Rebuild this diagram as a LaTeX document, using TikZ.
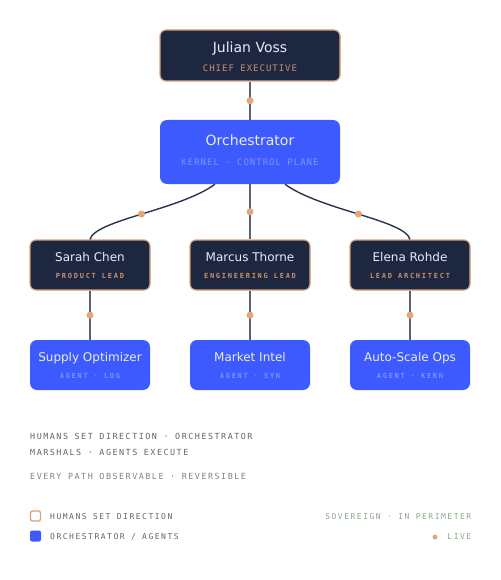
\documentclass[tikz,border=0pt]{standalone}
\usepackage{fontspec}
\setmainfont{DejaVu Sans}
\newfontfamily\monoA[LetterSpace=11]{DejaVu Sans Mono}
\newfontfamily\monoB[LetterSpace=25]{DejaVu Sans Mono Bold}
\newfontfamily\monoC[LetterSpace=18]{DejaVu Sans Mono}
\newfontfamily\monoD[LetterSpace=19]{DejaVu Sans Mono}
\usetikzlibrary{calc}
\definecolor{navy}{HTML}{1E2740}
\definecolor{tan}{HTML}{D9A27E}
\definecolor{dotc}{HTML}{E5A57A}
\definecolor{blu}{HTML}{3D5AFE}
\definecolor{blusub}{HTML}{7D93FF}
\definecolor{tansub}{HTML}{C9916C}
\definecolor{titw}{HTML}{E8ECF7}
\definecolor{linec}{HTML}{5B6275}
\definecolor{curvec}{HTML}{2B3350}
\definecolor{grayt}{HTML}{5E6673}
\definecolor{greent}{HTML}{788A7E}
\definecolor{greenl}{HTML}{8CA888}
\begin{document}
\begin{tikzpicture}[x=1pt,y=-1pt,
  human/.style={draw=tan,line width=1.2pt,fill=navy,rounded corners=6pt,inner sep=0pt},
  agentbox/.style={fill=blu,rounded corners=7pt,inner sep=0pt},
  bigtitle/.style={text=titw,font=\fontsize{14}{16}\selectfont,inner sep=0pt,anchor=base},
  smalltitle/.style={text=titw,font=\fontsize{12}{14}\selectfont,inner sep=0pt,anchor=base},
  bigsub/.style={font=\monoA\fontsize{9}{10}\selectfont,inner sep=0pt,anchor=base},
  smallsub/.style={font=\monoB\fontsize{7}{8}\selectfont,inner sep=0pt,anchor=base},
  foot/.style={font=\monoC\fontsize{8.4}{9}\selectfont,inner sep=0pt,anchor=west},
  legend/.style={font=\monoD\fontsize{8}{9}\selectfont,inner sep=0pt},
  vline/.style={draw=linec,line width=1.8pt},
  cline/.style={draw=curvec,line width=1.4pt},
  dotn/.style={circle,fill=dotc,inner sep=0pt,minimum size=7pt}
]
\useasboundingbox[fill=white] (0,0) rectangle (500,580);

% top
\node[human,minimum width=180pt,minimum height=51pt] (ceo) at (250,55.5) {};
\node[bigtitle] (ceot) at (250,52.5) {Julian Voss};
\node[bigsub,text=tansub] (ceos) at (250,71.5) {CHIEF EXECUTIVE};

\node[agentbox,minimum width=180pt,minimum height=64pt] (orch) at (250,152) {};
\node[bigtitle] (orcht) at (250,146) {Orchestrator};
\node[bigsub,text=blusub] (orchs) at (250,165.5) {KERNEL · CONTROL PLANE};

% row 2
\foreach \n/\x/\t/\s in {sarah/90/Sarah Chen/PRODUCT LEAD, marcus/250/Marcus Thorne/ENGINEERING LEAD, elena/410/Elena Rohde/LEAD ARCHITECT}{
  \node[human,minimum width=120pt,minimum height=50pt] (\n) at (\x,265) {};
  \node[smalltitle] (\n t) at (\x,261.5) {\t};
  \node[smallsub,text=tansub] (\n s) at (\x,278) {\s};
}
% row 3
\foreach \n/\x/\t/\s in {supply/90/Supply Optimizer/AGENT · LOG, market/250/Market Intel/AGENT · SYN, auto/410/Auto-Scale Ops/AGENT · KERN}{
  \node[agentbox,minimum width=120pt,minimum height=50pt] (\n) at (\x,365) {};
  \node[smalltitle] (\n t) at (\x,361.5) {\t};
  \node[smallsub,text=blusub] (\n s) at (\x,378) {\s};
}

% connectors
\draw[vline] (ceo.south) -- (orch.north) node[dotn,pos=0.5] (d0) {};
\draw[vline] (orch.south) -- (marcus.north) node[dotn,pos=0.5] (d2) {};
\coordinate (ol) at ($(orch.south)+(-35,0)$);
\coordinate (or) at ($(orch.south)+(35,0)$);
\draw[cline] (ol) .. controls (180,210) and (95,220) .. (sarah.north);
\draw[cline] (or) .. controls (320,210) and (405,220) .. (elena.north);
\node[dotn] (d1) at (141.5,214) {};
\node[dotn] (d3) at (358.5,214) {};
\draw[vline] (sarah.south) -- (supply.north) node[dotn,pos=0.5] (d4) {};
\draw[vline] (marcus.south) -- (market.north) node[dotn,pos=0.5] (d5) {};
\draw[vline] (elena.south) -- (auto.north) node[dotn,pos=0.5] (d6) {};

% footer text
\node[foot,text=grayt] (f1) at (30,436.5) {HUMANS SET DIRECTION · ORCHESTRATOR};
\node[foot,text=grayt] (f2) at (30,452.5) {MARSHALS · AGENTS EXECUTE};
\node[foot,text=greent] (f3) at (30,476.5) {EVERY PATH OBSERVABLE · REVERSIBLE};

% legend
\node[draw=tan,line width=1.3pt,fill=white,rounded corners=2pt,minimum size=10pt,inner sep=0pt] (lg1) at (35.5,516) {};
\node[fill=blu,rounded corners=2pt,minimum size=11pt,inner sep=0pt] (lg2) at (35.5,536) {};
\node[legend,text=grayt,anchor=west] (l1) at (50,516.5) {HUMANS SET DIRECTION};
\node[legend,text=grayt,anchor=west] (l2) at (50,536.5) {ORCHESTRATOR / AGENTS};
\node[legend,text=greenl,anchor=east] (l3) at (471.5,516.5) {SOVEREIGN · IN PERIMETER};
\node[legend,text=greenl,anchor=east] (l4) at (471.5,536.5) {LIVE};
\node[circle,fill=dotc,inner sep=0pt,minimum size=5pt] (ld) at (435,537) {};
\end{tikzpicture}
\end{document}
